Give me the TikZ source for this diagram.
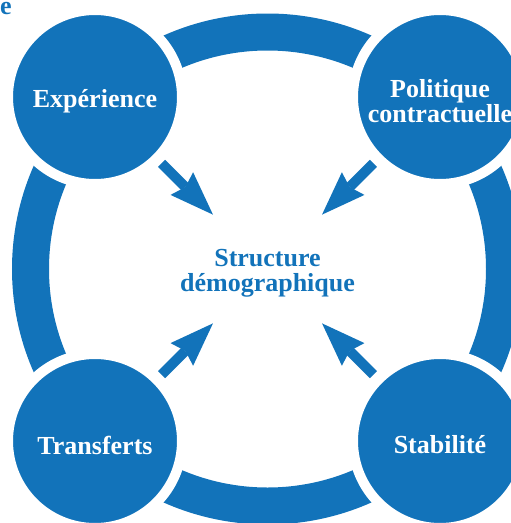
\documentclass[tikz,border=0pt]{standalone}
\usepackage{fontspec}
\setmainfont{Liberation Serif}
\usetikzlibrary{arrows.meta}
\definecolor{ringblue}{RGB}{18,115,186}

\begin{document}
\begin{tikzpicture}[x=1pt,y=-1pt,
    bubble/.style={circle,fill=ringblue,draw=white,line width=10pt,minimum size=174pt,inner sep=0pt},
    blabel/.style={text=white,align=center,inner sep=0pt,yshift=-4pt,font=\bfseries\fontsize{26}{25}\selectfont},
    push/.style={ringblue,line width=10pt,
        -{Stealth[length=44pt,width=32pt,inset=5pt,line width=0pt]},
        shorten <=2pt,shorten >=77pt}]
    \useasboundingbox (0,0) rectangle (511,523);
    %the ring behind the four circles
    \coordinate (mid) at (267.5,269);
    \draw [ringblue,line width=37pt] (mid) circle [radius=237pt];
    \node [bubble,label={[blabel]center:Expérience}] (exp) at (95,97) {};
    \node [bubble,label={[blabel]center:{Politique\\contractuelle}}] (pol) at (440,97) {};
    \node [bubble,label={[blabel]center:Transferts}] (tra) at (95,441) {};
    \node [bubble,label={[blabel]center:Stabilité}] (sta) at (440,441) {};
    %arrows pointing to the middle
    \draw [push] (exp) -- (mid);
    \draw [push] (pol) -- (mid);
    \draw [push] (tra) -- (mid);
    \draw [push] (sta) -- (mid);
    \node [blabel,text=ringblue] (struct) at (mid) {Structure\\démographique};
    \node [anchor=base west,inner sep=0pt,text=ringblue,font=\bfseries\fontsize{26}{25}\selectfont] (frag) at (0,14) {e};
\end{tikzpicture}
\end{document}
